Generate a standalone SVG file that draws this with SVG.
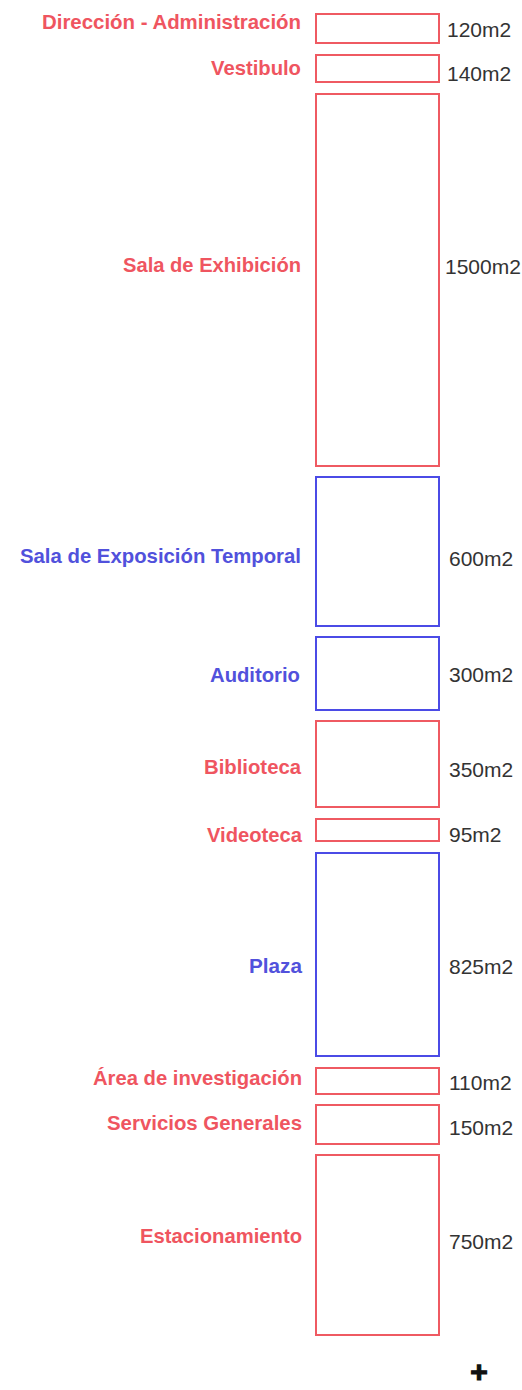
<svg xmlns="http://www.w3.org/2000/svg" width="522" height="1390" viewBox="0 0 522 1390">
<style>
.bg{fill:#ffffff}
.box{fill:none;stroke-width:2}
.r{stroke:#ef5a62}
.b{stroke:#4b4be6}
.lbl{font-family:"Liberation Sans",Arial,sans-serif;font-weight:bold;font-size:20.5px;text-anchor:end}
.lr{fill:#ef5560}
.lb{fill:#5151dc}
.area{font-family:"Liberation Sans",Arial,sans-serif;font-size:21px;fill:#333333}
</style>
<rect class="bg" x="0" y="0" width="522" height="1390"/>
<g id="direccion">
<rect class="box r" x="316" y="14" width="123" height="29"/>
<text class="lbl lr" x="301" y="29" textLength="259" lengthAdjust="spacingAndGlyphs">Dirección - Administración</text>
<text class="area" x="447" y="37">120m2</text>
</g>
<g id="vestibulo">
<rect class="box r" x="316" y="55" width="123" height="27"/>
<text class="lbl lr" x="301" y="75" textLength="90" lengthAdjust="spacingAndGlyphs">Vestibulo</text>
<text class="area" x="447" y="81">140m2</text>
</g>
<g id="sala-exhibicion">
<rect class="box r" x="316" y="94" width="123" height="372"/>
<text class="lbl lr" x="301" y="272" textLength="178" lengthAdjust="spacingAndGlyphs">Sala de Exhibición</text>
<text class="area" x="445" y="274">1500m2</text>
</g>
<g id="sala-temporal">
<rect class="box b" x="316" y="477" width="123" height="149"/>
<text class="lbl lb" x="301" y="563" textLength="281" lengthAdjust="spacingAndGlyphs">Sala de Exposición Temporal</text>
<text class="area" x="449" y="566">600m2</text>
</g>
<g id="auditorio">
<rect class="box b" x="316" y="637" width="123" height="73"/>
<text class="lbl lb" x="300" y="682" textLength="90" lengthAdjust="spacingAndGlyphs">Auditorio</text>
<text class="area" x="449" y="682">300m2</text>
</g>
<g id="biblioteca">
<rect class="box r" x="316" y="721" width="123" height="86"/>
<text class="lbl lr" x="301" y="774" textLength="97" lengthAdjust="spacingAndGlyphs">Biblioteca</text>
<text class="area" x="449" y="777">350m2</text>
</g>
<g id="videoteca">
<rect class="box r" x="316" y="819" width="123" height="22"/>
<text class="lbl lr" x="302" y="842" textLength="95" lengthAdjust="spacingAndGlyphs">Videoteca</text>
<text class="area" x="449" y="842">95m2</text>
</g>
<g id="plaza">
<rect class="box b" x="316" y="853" width="123" height="203"/>
<text class="lbl lb" x="302" y="973" textLength="53" lengthAdjust="spacingAndGlyphs">Plaza</text>
<text class="area" x="449" y="974">825m2</text>
</g>
<g id="area-investigacion">
<rect class="box r" x="316" y="1068" width="123" height="26"/>
<text class="lbl lr" x="302" y="1085" textLength="209" lengthAdjust="spacingAndGlyphs">Área de investigación</text>
<text class="area" x="449" y="1090">110m2</text>
</g>
<g id="servicios">
<rect class="box r" x="316" y="1105" width="123" height="39"/>
<text class="lbl lr" x="302" y="1130" textLength="195" lengthAdjust="spacingAndGlyphs">Servicios Generales</text>
<text class="area" x="449" y="1135">150m2</text>
</g>
<g id="estacionamiento">
<rect class="box r" x="316" y="1155" width="123" height="180"/>
<text class="lbl lr" x="302" y="1243" textLength="162" lengthAdjust="spacingAndGlyphs">Estacionamiento</text>
<text class="area" x="449" y="1249">750m2</text>
</g>
<g id="connectors"></g>
<g id="plus">
<text x="479" y="1382" font-family="Liberation Sans, Arial, sans-serif" font-weight="bold" font-size="30" text-anchor="middle" fill="#111111" stroke="#111111" stroke-width="1.2">+</text>
</g>
</svg>
